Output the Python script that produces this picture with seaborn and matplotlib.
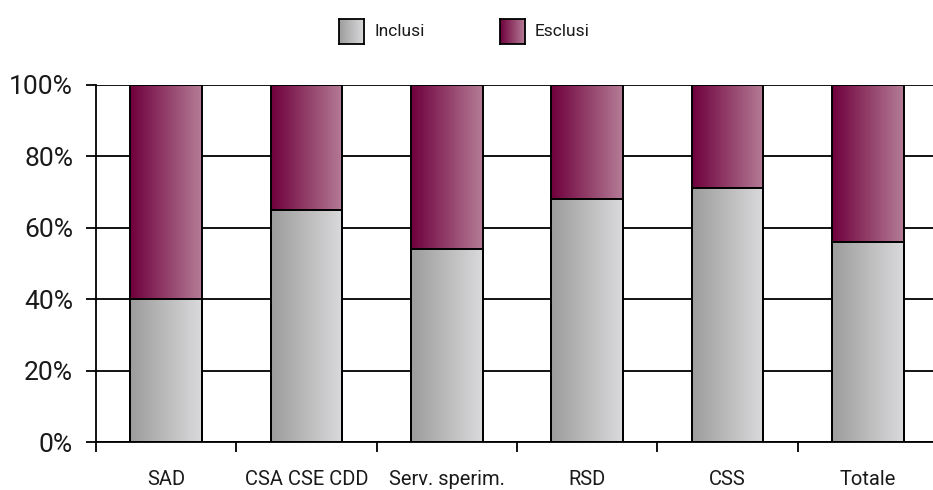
import numpy as np
import pandas as pd
import matplotlib
matplotlib.use("Agg")
import matplotlib.pyplot as plt
from matplotlib.colors import LinearSegmentedColormap
import seaborn as sns

categories = ["SAD", "CSA CSE CDD", "Serv. sperim.", "RSD", "CSS", "Totale"]
inclusi = [40, 65, 54, 68, 71, 56]
esclusi = [60, 35, 46, 32, 29, 44]
y_ticks = [0, 20, 40, 60, 80, 100]
y_tick_labels = ["0%", "20%", "40%", "60%", "80%", "100%"]
series_names = ["Inclusi", "Esclusi"]

sns.set_theme(style="white")
plt.rcParams["font.family"] = ["Roboto", "DejaVu Sans"]

df = pd.DataFrame({"categoria": categories, "Inclusi": inclusi, "Esclusi": esclusi})
df["cumulato"] = df["Inclusi"] + df["Esclusi"]

gray_cmap = LinearSegmentedColormap.from_list("grigio", ["#9c9c9c", "#dadadc"])
wine_cmap = LinearSegmentedColormap.from_list("vino", ["#6f003c", "#b47c96"])
gradient = np.linspace(0, 1, 256).reshape(1, -1)

fig = plt.figure(figsize=(9.33, 4.9), dpi=100)
ax = fig.add_axes([96 / 933, 48 / 490, 1 - 96 / 933, 357.5 / 490])

# stacked bars: full stack (Esclusi on top) first, then Inclusi over it
sns.barplot(data=df, x="categoria", y="cumulato", ax=ax, width=0.51,
            color="white", edgecolor="black", linewidth=1.4, saturation=1)
n = len(categories)
sns.barplot(data=df, x="categoria", y="Inclusi", ax=ax, width=0.51,
            color="white", edgecolor="black", linewidth=1.4, saturation=1)

for i, patch in enumerate(ax.patches):
    cmap = wine_cmap if i < n else gray_cmap
    x0, y0 = patch.get_x(), patch.get_y()
    w, h = patch.get_width(), patch.get_height()
    im = ax.imshow(gradient, cmap=cmap, aspect="auto",
                   extent=[x0, x0 + w, y0, y0 + h], zorder=2, interpolation="bilinear")
    im.set_clip_path(patch)
    patch.set_facecolor("none")
    patch.set_zorder(3)

ax.set_xlim(-0.5, n - 0.5 - 5 / 140.4)
ax.set_ylim(0, 100)
ax.set_xlabel("")
ax.set_ylabel("")

# horizontal gridlines
ax.set_yticks(y_ticks)
ax.set_yticklabels(y_tick_labels, fontsize=19, color="#1a1a1a")
ax.yaxis.grid(True, color="black", linewidth=1.3)
ax.xaxis.grid(False)
ax.set_axisbelow(True)

# category boundaries as ticks, labels centred between them
ax.set_xticks(np.arange(-0.5, n - 0.5, 1.0))
ax.set_xticklabels([])
ax.set_xticks(np.arange(n), minor=True)
ax.set_xticklabels(categories, minor=True, fontsize=14.5, color="#1a1a1a")
ax.tick_params(axis="x", which="major", direction="out", length=7.5, width=1.3,
               color="black", bottom=True)
ax.tick_params(axis="x", which="minor", length=0, pad=20)
ax.tick_params(axis="y", direction="out", length=7.5, width=1.3, color="black",
               left=True, pad=9)

for side in ["top", "right"]:
    ax.spines[side].set_visible(False)
ax.spines["left"].set_color("black")
ax.spines["left"].set_linewidth(1.3)
ax.spines["bottom"].set_color("black")
ax.spines["bottom"].set_linewidth(1.3)
for side in ["left", "bottom"]:
    ax.spines[side].set_zorder(1)

# legend swatches with the same gradients
swatches = [(339, "Inclusi", gray_cmap), (500, "Esclusi", wine_cmap)]
for x_px, label, cmap in swatches:
    sw = fig.add_axes([x_px / 933, (490 - 44) / 490, 25 / 933, 25 / 490])
    sw.imshow(gradient, cmap=cmap, aspect="auto", extent=[0, 1, 0, 1],
              interpolation="bilinear")
    sw.set_xticks([])
    sw.set_yticks([])
    for s in sw.spines.values():
        s.set_visible(True)
        s.set_color("black")
        s.set_linewidth(1.3)
    fig.text((x_px + 35) / 933, (490 - 31.5) / 490, label, fontsize=12.5,
             color="#1a1a1a", va="center", ha="left")

fig.savefig("out.png", dpi=100)
